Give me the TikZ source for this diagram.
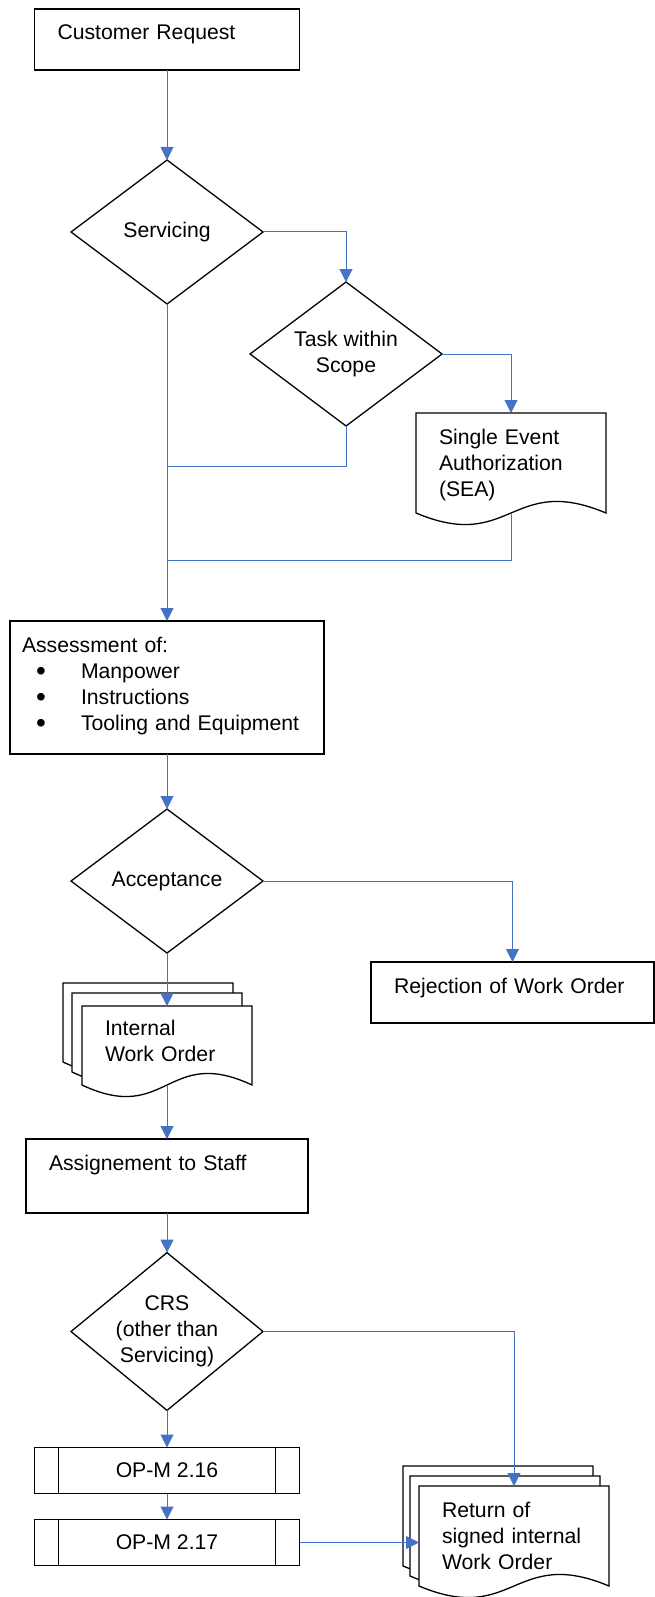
\documentclass[tikz,border=0pt]{standalone}
\usepackage{fontspec}
\setmainfont{Liberation Sans}
\usetikzlibrary{shapes.geometric,arrows.meta}
\definecolor{flowblue}{HTML}{4472C4}

% one sheet of a document symbol: x, y (top left), width, height
\newcommand{\docsheet}[4]{%
  \draw[sheet] (#1,#2) -- (#1+#3,#2) -- (#1+#3,#2+#4)
    .. controls (#1+0.5*#3,#2+#4-40) and (#1+0.5*#3,#2+#4+40) .. (#1,#2+#4) -- cycle;}
\newcommand{\itembullet}{\hspace*{14pt}\makebox[45pt][l]{\raisebox{-2pt}{\fontsize{28pt}{28pt}\selectfont\textbullet}}}

\begin{document}
\begin{tikzpicture}[x=1pt,y=-1pt,
  font=\fontsize{21.2pt}{26pt}\selectfont,
  box/.style={draw,line width=1.3pt,anchor=north west,align=left,inner xsep=23pt,inner ysep=0pt,outer sep=0pt,text height=31pt},
  doctext/.style={box,draw=none},
  decision/.style={diamond,draw,line width=1.3pt,minimum width=192pt,minimum height=144pt,inner sep=-4pt,outer sep=0pt,align=center},
  subproc/.style={draw,line width=1.3pt,minimum width=265pt,minimum height=46pt,inner sep=0pt,outer sep=0pt,
    path picture={\draw[line width=1.3pt] ([xshift=24pt]path picture bounding box.north west) -- ([xshift=24pt]path picture bounding box.south west)
      ([xshift=-24pt]path picture bounding box.north east) -- ([xshift=-24pt]path picture bounding box.south east);}},
  sheet/.style={draw,fill=white,line width=1.3pt},
  flow/.style={draw=flowblue,line width=1pt,-{Triangle[width=13pt,length=13pt]}},
  link/.style={draw=flowblue,line width=1pt}]
\useasboundingbox (0,0) rectangle (655,1597);

\node[box,text width=219pt,text depth=30pt] (req) at (34.5,9) {Customer Request};
\node[decision] (svc) at (167,232) {Servicing};
\node[decision] (task) at (346,354) {Task within\\Scope};
\docsheet{416}{413}{190}{100}
\node[doctext,text width=144pt,text depth=69pt] (sea) at (416,413) {Single Event\\Authorization\\(SEA)};
\node[box,inner xsep=12pt,text width=290pt,text depth=102pt] (assess) at (10,621) {Assessment of:\\
  \itembullet Manpower\\
  \itembullet Instructions\\
  \itembullet Tooling and Equipment};
\node[decision] (acc) at (167,881) {Acceptance};
\node[box,text width=237pt,text depth=30pt] (rej) at (371,962) {Rejection of Work Order};

% stacked work orders
\docsheet{63}{983}{170}{79}
\docsheet{72}{993}{170}{79}
\docsheet{82}{1006}{170}{79}
\node[doctext,text width=124pt,text height=29pt,text depth=50pt] (iwo) at (82,1006) {Internal\\Work Order};

\node[box,text width=236pt,text depth=43pt] (assign) at (26,1139) {Assignement to Staff};
\node[decision] (crs) at (167,1331.5) {CRS\\(other than\\Servicing)};
\node[subproc] (op16) at (167,1470.5) {OP-M 2.16};
\node[subproc] (op17) at (167,1542.5) {OP-M 2.17};

\docsheet{403}{1466}{190}{100}
\docsheet{410}{1476}{190}{100}
\docsheet{419}{1486}{190}{100}
\node[doctext,text width=144pt,text depth=69pt] (ret) at (419,1486) {Return of\\signed internal\\Work Order};

\coordinate (j1) at (167,466);
\coordinate (j2) at (167,560);

% connectors
\draw[flow] (req.south) -- (svc.north);
\draw[flow] (svc.east) -| (task.north);
\draw[flow] (task.east) -| (sea.north);
\draw[link] (task.south) |- (j1);
\draw[link] (sea.south) |- (j2);
\draw[flow] (svc.south) -- (assess.north);
\draw[flow] (assess.south) -- (acc.north);
\draw[flow] (acc.east) -| (rej.north);
\draw[flow] (acc.south) -- (iwo.north);
\draw[flow] (iwo.south) -- (assign.north);
\draw[flow] (assign.south) -- (crs.north);
\draw[flow] (crs.east) -| (ret.north);
\draw[flow] (crs.south) -- (op16.north);
\draw[flow] (op16.south) -- (op17.north);
\draw[flow] (op17.east) -- (op17.east -| ret.west);
\end{tikzpicture}
\end{document}
